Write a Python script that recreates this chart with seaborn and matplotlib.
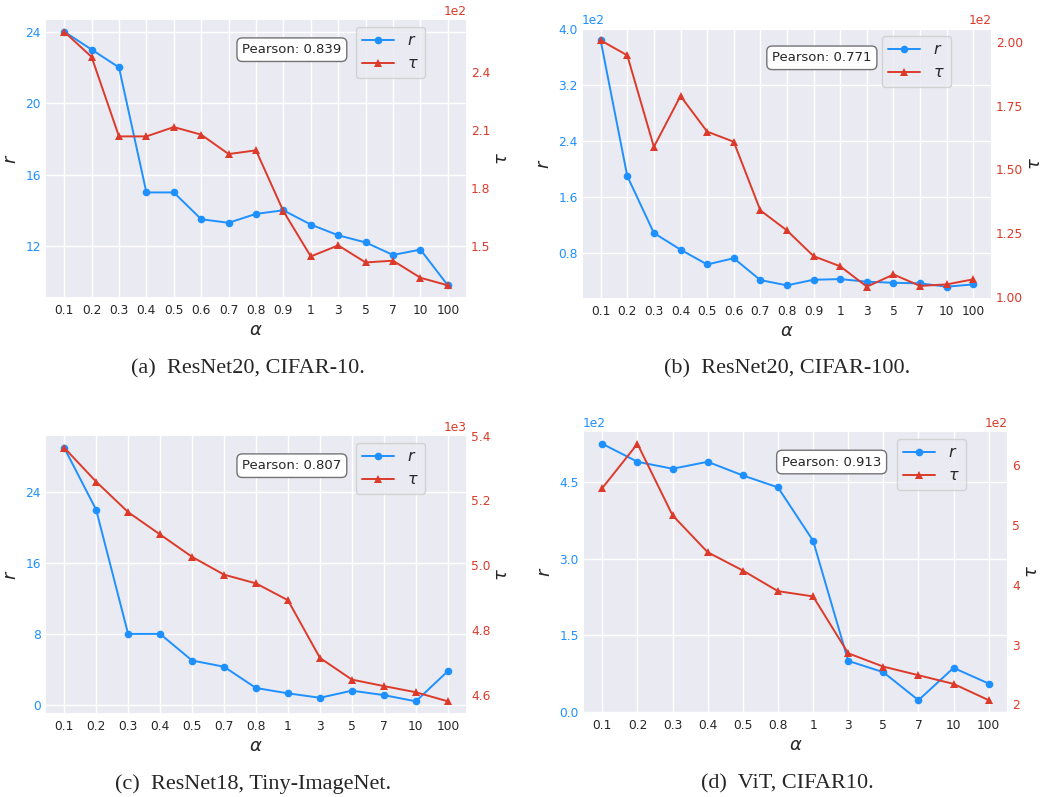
import numpy as np
import pandas as pd
import matplotlib
matplotlib.use('Agg')
import matplotlib.pyplot as plt
from matplotlib.lines import Line2D
import seaborn as sns

# alpha values on the x axis (categorical)
alpha_a = ['0.1', '0.2', '0.3', '0.4', '0.5', '0.6', '0.7', '0.8', '0.9', '1', '3', '5', '7', '10', '100']
alpha_b = ['0.1', '0.2', '0.3', '0.4', '0.5', '0.6', '0.7', '0.8', '0.9', '1', '3', '5', '7', '10', '100']
alpha_c = ['0.1', '0.2', '0.3', '0.4', '0.5', '0.7', '0.8', '1', '3', '5', '7', '10', '100']
alpha_d = ['0.1', '0.2', '0.3', '0.4', '0.5', '0.8', '1', '3', '5', '7', '10', '100']

# (a) ResNet20, CIFAR-10
a_r = [24.0, 23.0, 22.0, 15.0, 15.0, 13.5, 13.3, 13.8, 14.0, 13.2, 12.6, 12.2, 11.5, 11.8, 9.8]
a_tau = [260.7, 247.7, 206.7, 206.7, 211.5, 207.6, 197.6, 199.5, 168.1, 144.8, 150.5, 141.7, 142.6, 133.8, 129.9]
# (b) ResNet20, CIFAR-100
b_r = [383.4, 189.7, 108.4, 84.7, 63.5, 72.4, 41.2, 33.7, 41.7, 42.6, 38.9, 37.4, 36.5, 31.8, 35.1]
b_tau = [200.8, 194.9, 158.9, 178.9, 164.9, 160.9, 133.9, 126.0, 115.9, 111.9, 103.9, 108.7, 104.2, 104.8, 106.8]
# (c) ResNet18, Tiny-ImageNet
c_r = [29.0, 22.0, 8.0, 8.0, 5.0, 4.3, 1.9, 1.3, 0.8, 1.6, 1.1, 0.4, 3.8]
c_tau = [5363, 5258, 5164, 5095, 5026, 4971, 4944, 4892, 4714, 4647, 4627, 4608, 4580]
# (d) ViT, CIFAR10
d_r = [524.9, 489.7, 476.1, 489.7, 463.0, 439.6, 335.2, 99.8, 77.6, 22.8, 86.0, 55.4]
d_tau = [561.7, 635.6, 516.1, 454.4, 423.9, 389.4, 380.6, 285.6, 263.3, 248.9, 234.4, 207.2]

pearson = ['0.839', '0.771', '0.807', '0.913']
captions = ['(a)  ResNet20, CIFAR-10.', '(b)  ResNet20, CIFAR-100.',
            '(c)  ResNet18, Tiny-ImageNet.', '(d)  ViT, CIFAR10.']

r_ticks = [[12, 16, 20, 24], [80, 160, 240, 320, 400], [0, 8, 16, 24], [0, 150, 300, 450]]
tau_ticks = [[150, 180, 210, 240], [100, 125, 150, 175, 200],
             [4600, 4800, 5000, 5200, 5400], [200, 300, 400, 500, 600]]

BLUE = '#1E90FF'
RED = '#DC3A2A'

sns.set_theme(style='darkgrid')
plt.rcParams['font.family'] = ['DejaVu Sans']

W, H = 1045, 797
fig = plt.figure(figsize=(W / 100, H / 100), dpi=100)

# axes boxes in pixels: left, right, top, bottom
boxes = [(45, 467, 19, 298), (582, 992, 28, 299), (45, 467, 435, 714), (583, 1008, 431, 713)]
caption_pos = [(248, 369), (787, 369), (253, 784), (787, 784)]

panels = [(alpha_a, a_r, a_tau), (alpha_b, b_r, b_tau), (alpha_c, c_r, c_tau), (alpha_d, d_r, d_tau)]

for i, (alphas, rv, tv) in enumerate(panels):
    l, r, t, b = boxes[i]
    ax = fig.add_axes([l / W, 1 - b / H, (r - l) / W, (b - t) / H])
    ax2 = ax.twinx()
    df = pd.DataFrame({'pos': np.arange(len(alphas)), 'r': rv, 'tau': tv})

    sns.lineplot(data=df, x='pos', y='r', ax=ax, color=BLUE, marker='o', markersize=5.5,
                 linewidth=1.4, mec=BLUE, mew=0, legend=False)
    sns.lineplot(data=df, x='pos', y='tau', ax=ax2, color=RED, marker='^', markersize=5.5,
                 linewidth=1.4, mec=RED, mew=0, legend=False)

    ax.set_xticks(df['pos'])
    ax.set_xticklabels(alphas, fontsize=8.8, color='0.15')
    ax.set_yticks(r_ticks[i])
    ax2.set_yticks(tau_ticks[i])
    ax2.grid(False)
    for a in (ax, ax2):
        a.ticklabel_format(axis='y', style='sci', scilimits=(-2, 2))
        a.tick_params(length=0)
    ax.tick_params(axis='x', pad=4)
    ax.tick_params(axis='y', labelsize=8.8, labelcolor=BLUE, pad=3)
    ax2.tick_params(axis='y', labelsize=8.8, labelcolor=RED, pad=3)
    ax.yaxis.get_offset_text().set_color(BLUE)
    ax.yaxis.get_offset_text().set_fontsize(8.8)
    ax2.yaxis.get_offset_text().set_color(RED)
    ax2.yaxis.get_offset_text().set_fontsize(8.8)

    ax.set_xlabel(r'$\alpha$', fontsize=13, labelpad=3)
    ax.set_ylabel(r'$r$', fontsize=13, labelpad=4)
    ax2.set_ylabel(r'$\tau$', fontsize=13, labelpad=2)

    ax.text(0.585, 0.89, 'Pearson: ' + pearson[i], transform=ax.transAxes,
            ha='center', va='center', fontsize=9.5, zorder=10,
            bbox=dict(boxstyle='round,pad=0.4', fc='white', ec='0.45', lw=1))

    handles = [Line2D([0], [0], color=BLUE, marker='o', markersize=5.5, lw=1.4, mew=0),
               Line2D([0], [0], color=RED, marker='^', markersize=5.5, lw=1.4, mew=0)]
    ax2.legend(handles, [r'$r$', r'$\tau$'], loc='upper right', bbox_to_anchor=(0.92, 1.0),
               fontsize=11.5, framealpha=0.8)

    cx, cy = caption_pos[i]
    fig.text(cx / W, 1 - cy / H, captions[i], ha='center', va='center',
             fontsize=16, family=['Liberation Serif', 'DejaVu Serif'])

fig.savefig('out.png', dpi=100)
